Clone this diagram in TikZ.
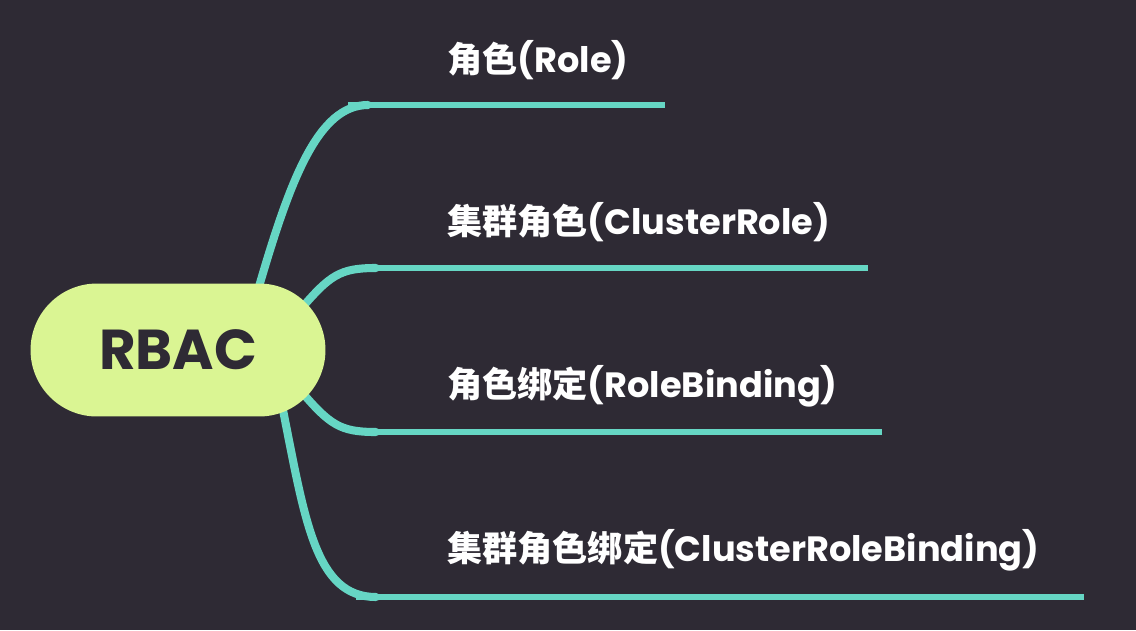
\documentclass[tikz,border=0pt]{standalone}
\usepackage{fontspec}
\setmainfont{Poppins}
\newfontfamily\cjk{Noto Sans CJK SC}
\usetikzlibrary{positioning,calc,backgrounds}
\definecolor{bgc}{HTML}{2E2A34}
\definecolor{rootc}{HTML}{DAF593}
\definecolor{branchc}{HTML}{66D6C4}
\tikzset{
  rootbox/.style={fill=rootc, rounded corners=1.33cm, minimum width=5.9cm,
    minimum height=2.66cm, text=bgc, font=\fontsize{32}{36}\selectfont\bfseries},
  leaf/.style={anchor=west, text=white, inner sep=0pt,
    font=\fontsize{20}{24}\selectfont\bfseries},
  stem/.style={branchc, line width=4.6pt, line cap=round},
  twig/.style={branchc, line width=3.4pt},
}

\begin{document}
\begin{tikzpicture}[x=0.02cm,y=-0.02cm]
  % pixel grid of the reference, y downwards
  \useasboundingbox (0,0) rectangle (1136,630);
  \node[rootbox] (root) at (178,350) {RBAC};

  \node[leaf] (l1) at (447,60)  {{\cjk 角色}(Role)};
  \node[leaf] (l2) at (447,222) {{\cjk 集群角色}(ClusterRole)};
  \node[leaf] (l3) at (447,386) {{\cjk 角色绑定}(RoleBinding)};
  \node[leaf] (l4) at (447,550) {{\cjk 集群角色绑定}(ClusterRoleBinding)};

  \coordinate (k1) at (368,105); \coordinate (e1) at (665,105);
  \coordinate (k2) at (376,268); \coordinate (e2) at (868,268);
  \coordinate (k3) at (376,432); \coordinate (e3) at (882,432);
  \coordinate (k4) at (376,597); \coordinate (e4) at (1084,597);

  \begin{pgfonlayer}{background}
    \fill[bgc] (0,0) rectangle (1136,630);
    % branches
    \draw[stem] ($(root.center)+(80,-60)$) .. controls (290,180) and (318,105) .. (k1);
    \draw[twig] ($(k1)+(-20,0)$) -- (e1);
    \draw[stem] ($(root.center)+(122,-40)$) .. controls (330,275) and (340,268) .. (k2);
    \draw[twig] ($(k2)+(-20,0)$) -- (e2);
    \draw[stem] ($(root.center)+(122,40)$) .. controls (330,425) and (340,432) .. (k3);
    \draw[twig] ($(k3)+(-20,0)$) -- (e3);
    \draw[stem] ($(root.center)+(104,55)$) .. controls (305,520) and (315,597) .. (k4);
    \draw[twig] ($(k4)+(-20,0)$) -- (e4);
  \end{pgfonlayer}
\end{tikzpicture}
\end{document}
